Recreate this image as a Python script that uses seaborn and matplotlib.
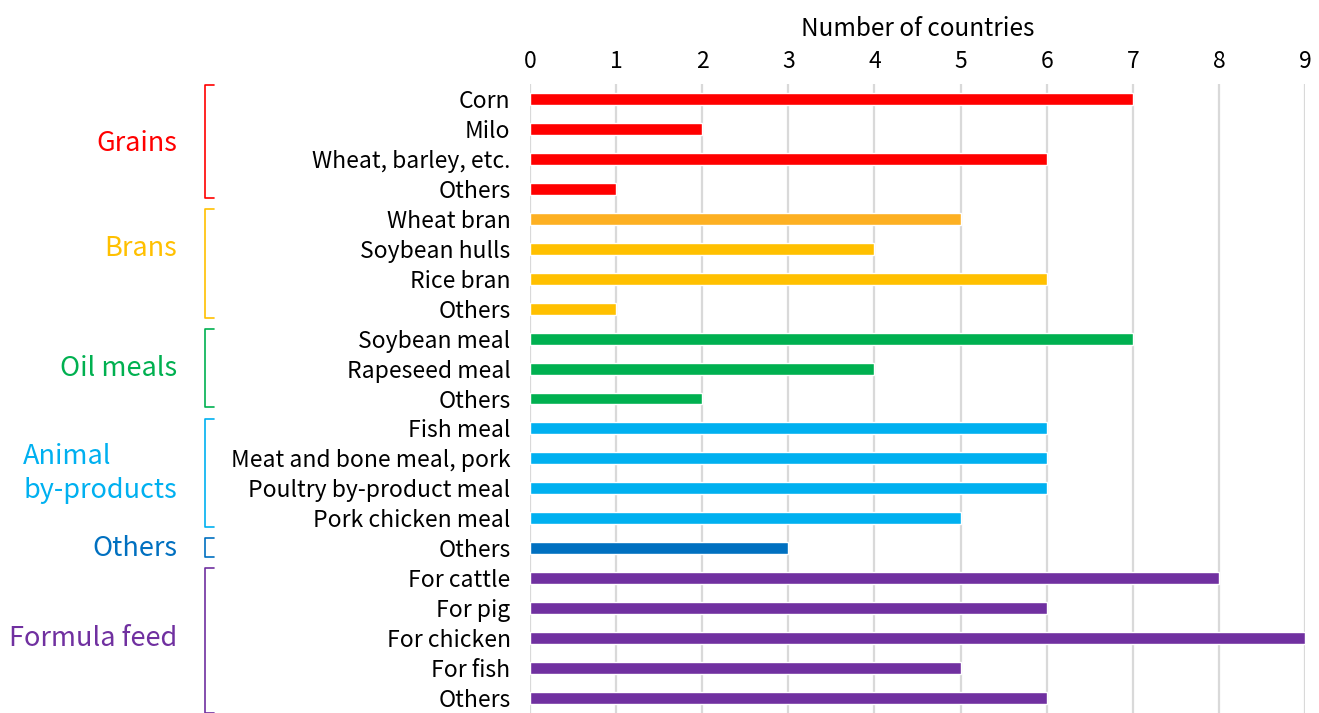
import matplotlib
matplotlib.use("Agg")
import matplotlib.pyplot as plt
import matplotlib.transforms as mtransforms
import seaborn as sns
import pandas as pd

# ---- data ----
items = ["Corn", "Milo", "Wheat, barley, etc.", "Others",
         "Wheat bran", "Soybean hulls", "Rice bran", "Others",
         "Soybean meal", "Rapeseed meal", "Others",
         "Fish meal", "Meat and bone meal, pork", "Poultry by-product meal", "Pork chicken meal",
         "Others",
         "For cattle", "For pig", "For chicken", "For fish", "Others"]
values = [7, 2, 6, 1,
          5, 4, 6, 1,
          7, 4, 2,
          6, 6, 6, 5,
          3,
          8, 6, 9, 5, 6]
groups = ["Grains"] * 4 + ["Brans"] * 4 + ["Oil meals"] * 3 + ["Animal\nby-products"] * 4 + ["Others"] + ["Formula feed"] * 5
group_names = ["Grains", "Brans", "Oil meals", "Animal\nby-products", "Others", "Formula feed"]
group_colors = ["#FF0000", "#FFC000", "#00B050", "#00B0F0", "#0070C0", "#7030A0"]
xticks = list(range(0, 10))
xlabel = "Number of countries"

sns.set_theme(style="white")
plt.rcParams['font.family'] = ['Noto Sans CJK JP', 'DejaVu Sans']

keys = [f"{i:02d}_{t}" for i, t in enumerate(items)]
cmap = dict(zip(group_names, group_colors))
bar_colors = [cmap[g] for g in groups]
bar_colors[4] = "#FDB022"  # wheat bran slightly more orange
df = pd.DataFrame({"key": keys, "value": values, "group": groups})

fig = plt.figure(figsize=(13.19, 7.13), dpi=100)
ax = fig.add_axes([530 / 1319, 0.0, (1305 - 530) / 1319, 1 - 84 / 713])

sns.barplot(data=df, y="key", x="value", hue="key", palette=dict(zip(keys, bar_colors)),
            orient="h", width=0.4, dodge=False, legend=False, ax=ax, saturation=1)

ax.set_xlim(0, 9)
ax.set_ylim(20.5, -0.5)
ax.set_xticks(xticks)
ax.xaxis.tick_top()
ax.xaxis.set_label_position("top")
ax.set_xlabel(xlabel, fontsize=17.5, labelpad=10, color="black")
ax.set_ylabel("")
ax.set_yticks(range(len(items)))
ax.set_yticklabels(items, fontsize=16.5, color="black")
ax.tick_params(axis="x", labelsize=16.5, pad=8, length=0, colors="black")
ax.tick_params(axis="y", pad=14, length=0)
ax.grid(axis="x", color="#D9D9D9", linewidth=1.6)
ax.set_axisbelow(True)
for s in ax.spines.values():
    s.set_visible(False)

# group brackets and labels
trans = mtransforms.blended_transform_factory(fig.transFigure, ax.transData)
x_line = 205 / 1319
x_tick = 214 / 1319
x_label = 177 / 1319
label_offsets = [0.0, -0.5, 0.0, 0.0, 0.0, 0.0]
start = 0
for gname, gcol, off in zip(group_names, group_colors, label_offsets):
    n = groups.count(gname)
    top = start - (0.45 if start == 0 else 0.33)
    bot = start + n - 1 + 0.3
    if start + n == len(items):
        bot = 20.5
    ax.plot([x_tick, x_line, x_line, x_tick], [top, top, bot, bot], color=gcol,
            lw=1.2, transform=trans, clip_on=False)
    mid = start + (n - 1) / 2 + off
    ax.text(x_label, mid, gname, color=gcol, fontsize=19.5, ha="right", va="center",
            multialignment="left", linespacing=1.35, transform=trans)
    start += n

fig.savefig("out.png", dpi=100)
